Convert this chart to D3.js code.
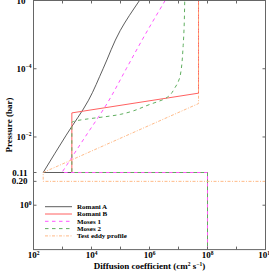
<!DOCTYPE html>
<html>
<head>
<meta charset="utf-8">
<script src="https://cdn.jsdelivr.net/npm/d3@7"></script>
<style>
body { margin: 0; background: #fff; }
text { font-family: "Liberation Serif", "Times New Roman", serif; font-weight: bold; fill: #000; }
</style>
</head>
<body>
<script>
// eddy diffusion profiles, [K (cm2 s-1), P (bar)]
var romaniA = [[1e8, 20], [1e8, 0.11], [216, 0.11], [1343, 8.85e-3], [7890, 8.4e-4], [25100, 1e-4], [97700, 7.6e-6], [4.52e5, 1e-6]];
var romaniB = [[1e8, 20], [1e8, 0.11], [2100, 0.11], [2100, 1.97e-3], [4.9e7, 5.2e-4], [4.9e7, 1e-6]];
var moses1 = [[1e8, 20], [1e8, 0.11], [955, 0.11], [6030, 1e-2], [35500, 1e-3], [1.58e5, 1e-4], [7.08e5, 1e-5], [3.47e6, 1e-6]];
var moses2 = [[1e8, 20], [1e8, 0.11], [2100, 0.11], [2100, 3.77e-3], [97700, 2.18e-3], [1.06e6, 1.1e-3], [3.48e6, 7.48e-4], [7.69e6, 3.5e-4], [1.15e7, 1.56e-4], [1.45e7, 2.07e-5], [1.64e7, 1e-6]];
var testEddy = [[1e10, 0.2], [216, 0.2], [216, 0.11], [4.9e7, 1.05e-3], [4.9e7, 1e-6]];

var seriesNames = ["Romani A", "Romani B", "Moses 1", "Moses 2", "Test eddy profile"];
var xTicks = [1e2, 1e3, 1e4, 1e5, 1e6, 1e7, 1e8, 1e9, 1e10];
var xLabels = [[1e2, "2"], [1e4, "4"], [1e6, "6"], [1e8, "8"], [1e10, "10"]];
var yLabels = [[1e-6, "\u22126"], [1e-4, "\u22124"], [1e-2, "\u22122"], [1, "0"]];
var yExtra = [[0.11, "0.11"], [0.2, "0.20"]];

(function(){
	var W = 269, H = 273,
		m = {l: 33.5, r: 3.5, t: 0.5, b: 23.4};
	var svg = d3.select("body").append("svg").attr("width", W).attr("height", H);

	var x = d3.scaleLog().domain([1e2, 1e10]).range([m.l, W - m.r]),
		y = d3.scaleLog().domain([1e-6, 20]).range([m.t, H - m.b]);

	svg.append("clipPath").attr("id", "clip").append("rect")
		.attr("x", m.l).attr("y", m.t).attr("width", W - m.r - m.l).attr("height", H - m.b - m.t);

	var styles = [
		{c: "#333", w: 0.8, d: null, o: 0, smooth: true},
		{c: "#ff6161", w: 1, d: null, o: 0, smooth: false},
		{c: "#ff55ff", w: 1, d: "3.5,3.5", o: 0, smooth: true},
		{c: "#5fae5f", w: 1, d: "3.5,3.5", o: 3.5, smooth: true},
		{c: "#ffb27a", w: 0.9, d: "3,1.5,1,1.5", o: 0, smooth: false}
	];
	var data = [romaniA, romaniB, moses1, moses2, testEddy];

	var straight = d3.line().x(function(d){ return x(d[0]); }).y(function(d){ return y(d[1]); }),
		curved = d3.line().x(function(d){ return x(d[0]); }).y(function(d){ return y(d[1]); }).curve(d3.curveMonotoneY);

	var g = svg.append("g").attr("clip-path", "url(#clip)");
	data.forEach(function(s, i){
		var st = styles[i];
		var d = st.smooth ? straight(s.slice(0, 3)) + curved(s.slice(2)).replace(/^M[^A-Za-z]*/, "") : straight(s);
		g.append("path").attr("d", d)
			.attr("fill", "none").attr("stroke", st.c)
			.attr("stroke-width", st.w)
			.attr("stroke-dasharray", st.d)
			.attr("stroke-dashoffset", st.o);
	});

	// frame
	var ax = "#666";
	svg.append("rect").attr("x", m.l).attr("y", m.t)
		.attr("width", W - m.r - m.l).attr("height", H - m.b - m.t)
		.attr("fill", "none").attr("stroke", ax).attr("stroke-width", 1);

	// inward ticks
	var tl = 3;
	xTicks.forEach(function(t){
		svg.append("line").attr("x1", x(t)).attr("x2", x(t)).attr("y1", H - m.b).attr("y2", H - m.b - tl).attr("stroke", ax);
		svg.append("line").attr("x1", x(t)).attr("x2", x(t)).attr("y1", m.t).attr("y2", m.t + tl).attr("stroke", ax);
	});
	yLabels.forEach(function(t){
		svg.append("line").attr("x1", m.l).attr("x2", m.l + tl).attr("y1", y(t[0])).attr("y2", y(t[0])).attr("stroke", ax);
		svg.append("line").attr("x1", W - m.r).attr("x2", W - m.r - tl).attr("y1", y(t[0])).attr("y2", y(t[0])).attr("stroke", ax);
	});
	yExtra.forEach(function(t){
		svg.append("line").attr("x1", m.l).attr("x2", m.l + tl).attr("y1", y(t[0])).attr("y2", y(t[0])).attr("stroke", ax);
	});

	// tick labels
	xLabels.forEach(function(t){
		var tx = svg.append("text").attr("x", x(t[0])).attr("y", H - m.b + 8.6)
			.attr("text-anchor", "middle").style("font-size", "9px");
		tx.append("tspan").text("10");
		tx.append("tspan").attr("dy", -3.5).style("font-size", "5.5px").text(t[1]);
	});
	yLabels.forEach(function(t){
		var tx = svg.append("text").attr("x", m.l - 2).attr("y", y(t[0]) + 3)
			.attr("text-anchor", "end").style("font-size", "9px");
		tx.append("tspan").text("10");
		tx.append("tspan").attr("dy", -3.5).style("font-size", "5.5px").text(t[1]);
	});
	yExtra.forEach(function(t){
		svg.append("text").attr("x", m.l - 6).attr("y", y(t[0]) + 3)
			.attr("text-anchor", "end").style("font-size", "9px").text(t[1]);
	});

	// axis titles
	var xt = svg.append("text").attr("x", (m.l + W - m.r) / 2).attr("y", H - 4.3)
		.attr("text-anchor", "middle").style("font-size", "9px");
	xt.append("tspan").text("Diffusion coefficient (cm");
	xt.append("tspan").attr("dy", -3).style("font-size", "5.5px").text("2");
	xt.append("tspan").attr("dy", 3).text(" s");
	xt.append("tspan").attr("dy", -3).style("font-size", "5.5px").text("\u22121");
	xt.append("tspan").attr("dy", 3).text(")");

	svg.append("text").attr("transform", "translate(12," + ((m.t + H - m.b) / 2) + ") rotate(-90)")
		.attr("text-anchor", "middle").style("font-size", "9px").text("Pressure (bar)");

	// legend
	var lg = svg.append("g").attr("transform", "translate(45,206.7)");
	seriesNames.forEach(function(n, i){
		var yy = i * 7.3;
		lg.append("line").attr("x1", 0).attr("x2", 27).attr("y1", yy).attr("y2", yy)
			.attr("stroke", styles[i].c).attr("stroke-width", styles[i].w)
			.attr("stroke-dasharray", styles[i].d);
		lg.append("text").attr("x", 32).attr("y", yy + 2.3).style("font-size", "7px").text(n);
	});
})();
</script>
</body>
</html>
